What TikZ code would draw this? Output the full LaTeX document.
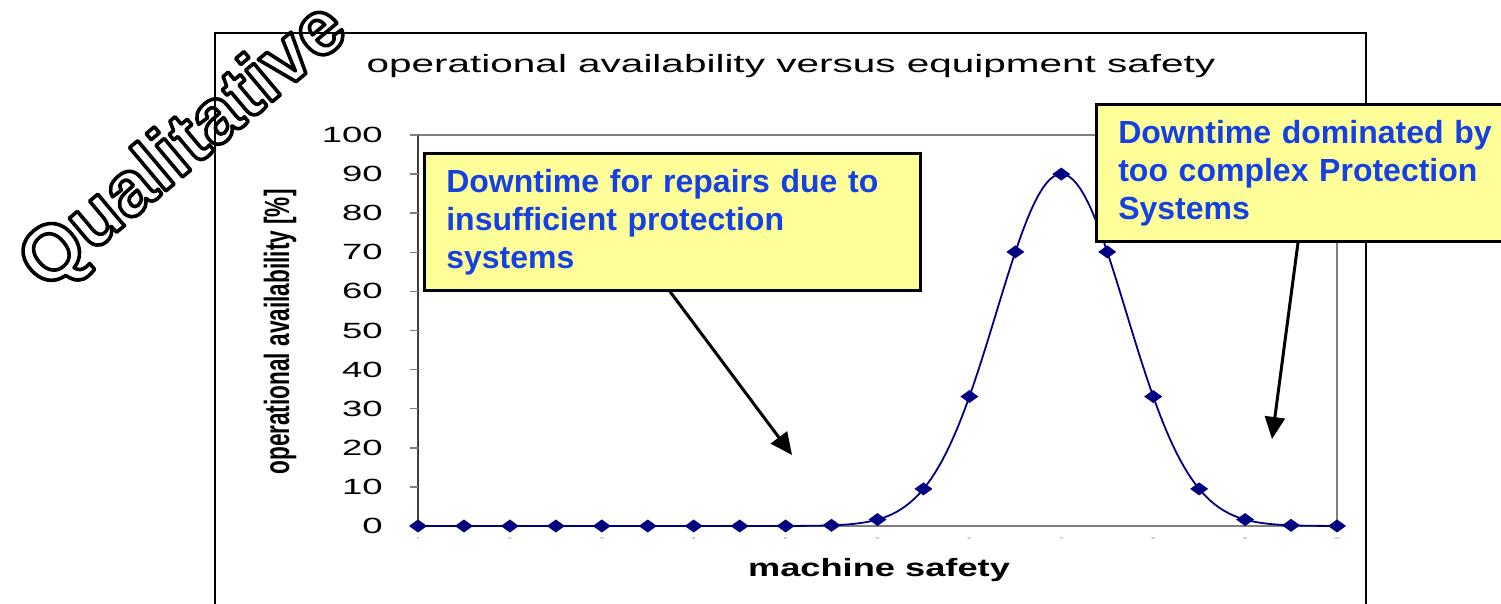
\documentclass[tikz,border=0pt]{standalone}
\usepackage{fontspec}
\setmainfont{Liberation Sans}
\usepackage{graphicx}
\usetikzlibrary{arrows.meta}
\definecolor{seriesblue}{HTML}{000080}
\definecolor{axisgray}{HTML}{808080}
\definecolor{noteyellow}{HTML}{FFFF99}
\definecolor{noteblue}{HTML}{1440E4}
% hollow glyphs: white fill with a black stroke (PDF text rendering mode 2)
\newcommand{\outlinedtext}[1]{%
  \special{pdf:literal direct 0 G 2 Tr 3.6 w 1 j}#1\special{pdf:literal direct 0 Tr}}
\tikzset{
  frameline/.style={draw=black, line width=1.3pt},
  plotframe/.style={draw=axisgray, line width=1.6pt},
  ticklabel/.style={anchor=east, inner sep=0pt, font=\fontsize{22}{24}\selectfont},
  xticklabel/.style={inner sep=0pt, text=axisgray, font=\fontsize{3}{3}\selectfont},
  notebox/.style={draw=black, line width=2.6pt, fill=noteyellow, anchor=north west,
    minimum height=137pt, inner xsep=22pt, align=left, text=noteblue,
    font=\fontsize{32}{38}\selectfont\bfseries},
  pointer/.style={draw=black, line width=3pt, -{Triangle[length=22pt,width=20pt]}},
  series/.style={draw=seriesblue, line width=1.8pt},
}
\begin{document}
\begin{tikzpicture}[x=1pt,y=-1pt]
\clip (0,0) rectangle (1501,604);
\fill[white] (0,0) rectangle (1501,604);

% outlined watermark word
\node[rotate=40, text=white, inner sep=0pt,
      font=\fontsize{78}{82}\selectfont\bfseries] (qual) at (185,148)
      {\outlinedtext{Qualitative}};

% outer chart frame
\draw[frameline] (215,604) -- (215,33) -- (1366,33) -- (1366,604);

% title
\node[inner sep=0pt, font=\fontsize{25}{30}\selectfont] (title) at (791,66.5)
  {\scalebox{1.62}[1]{operational availability versus equipment safety}};

% plot area
\draw[plotframe] (418,135) rectangle (1337,526);
\draw[draw=black!75, line width=1.6pt] (418,135) -- (418,526);
\foreach \v in {0,10,...,100} {
  \draw[axisgray, line width=1.4pt] (410,{526-3.91*\v}) -- (418,{526-3.91*\v});
  \node[ticklabel] (ylab\v) at (383,{526-3.91*\v}) {\scalebox{1.66}[1]{\v}};
}
\foreach \k in {0,...,10} {
  \pgfmathtruncatemacro\lab{10*\k}
  \node[xticklabel] (xlab\k) at ({418+\k*91.9},538) {\lab};
}

% axis titles
\node[rotate=90, inner sep=0pt, font=\fontsize{22.6}{24}\selectfont\bfseries] (ytitle) at (280,332)
  {\scalebox{1}[1.55]{operational availability [\%]}};
\node[inner sep=0pt, font=\fontsize{25}{30}\selectfont\bfseries] (xtitle) at (879,570.5)
  {\scalebox{1.45}[1]{machine safety}};

% availability curve
\draw[series] plot[domain=0:20, samples=241]
  ({418+\x*45.95}, {526-3.91*90*exp(-((\x-14)^2)/4)});
\foreach \i in {0,...,20} {
  \pgfmathsetmacro\vx{418+\i*45.95}
  \pgfmathsetmacro\vy{526-3.91*90*exp(-((\i-14)^2)/4)}
  \fill[seriesblue] (\vx-9,\vy) -- (\vx,\vy-6.5) -- (\vx+9,\vy) -- (\vx,\vy+6.5) -- cycle;
}

% callouts
\node[notebox, minimum width=496pt, text width=452pt] (box1) at (423,152)
  {Downtime for repairs due to\\insufficient protection\\systems};
\node[notebox, minimum width=430pt, text width=386pt] (box2) at (1095,103)
  {Downtime dominated by\\too complex Protection\\Systems};

\coordinate (tip1) at (792,455);
\coordinate (tip2) at (1272,439);
\draw[pointer] ([xshift=247pt]box1.south west) -- (tip1);
\draw[pointer] ([xshift=203pt]box2.south west) -- (tip2);
\end{tikzpicture}
\end{document}
